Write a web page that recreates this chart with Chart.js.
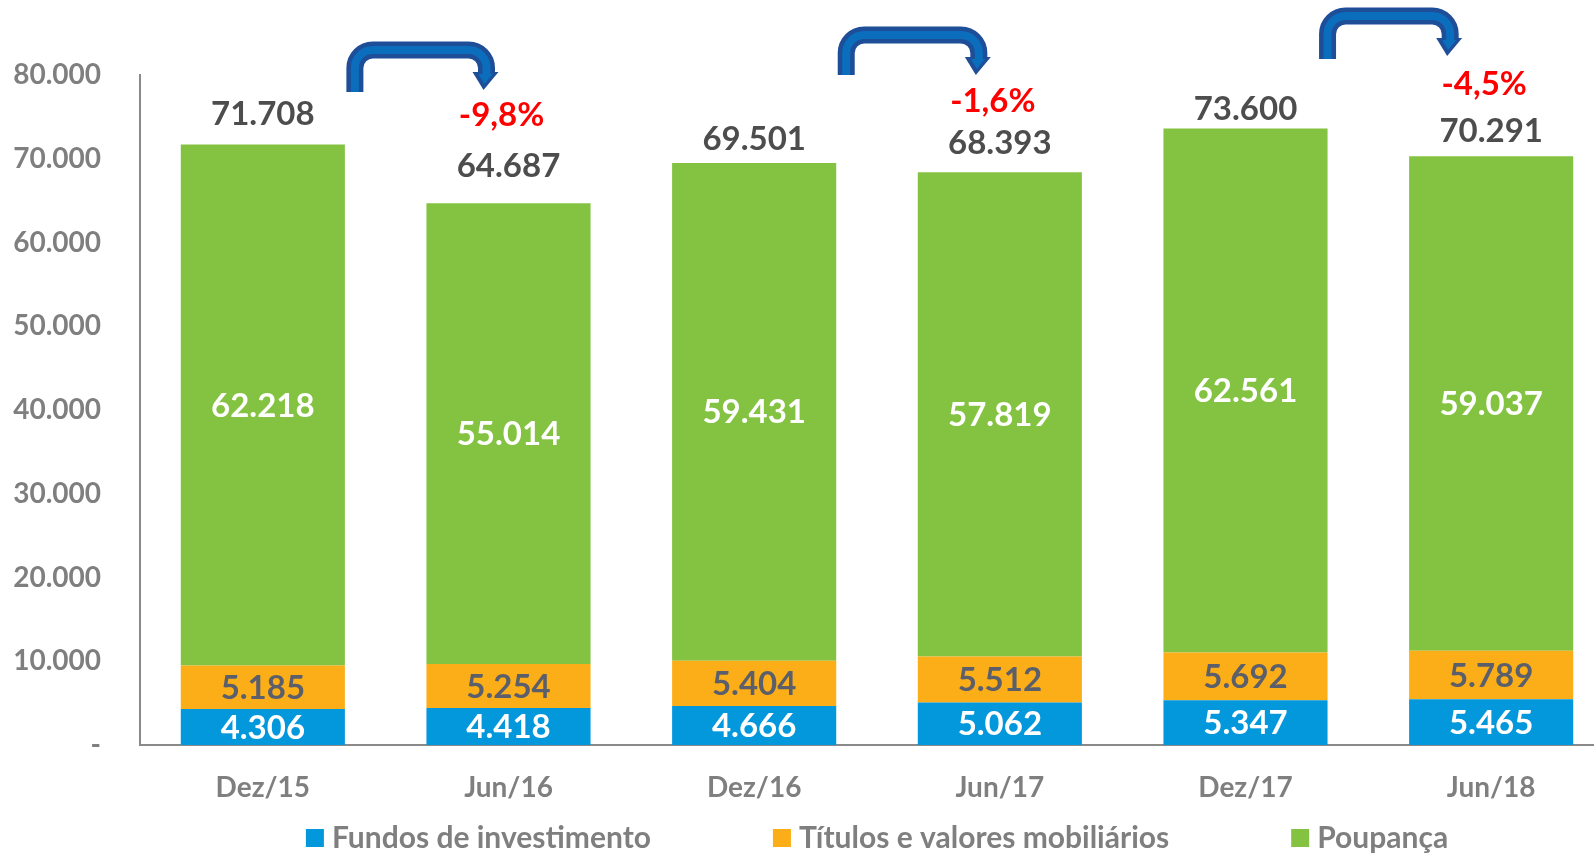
<!DOCTYPE html>
<html>
<head>
<meta charset="utf-8">
<script src="https://cdn.jsdelivr.net/npm/chart.js@4/dist/chart.umd.min.js"></script>
<style>
  html, body { margin: 0; padding: 0; background: #fff; overflow: hidden; }
  #wrap { width: 1614px; height: 853px; }
</style>
</head>
<body>
<div id="wrap"><canvas id="mycanvas"></canvas></div>
<script>
var periodos = ["Dez/15", "Jun/16", "Dez/16", "Jun/17", "Dez/17", "Jun/18"];
var fundos = [4306, 4418, 4666, 5062, 5347, 5465];
var titulos = [5185, 5254, 5404, 5512, 5692, 5789];
var poupanca = [62218, 55014, 59431, 57819, 62561, 59037];
var totais = [71708, 64687, 69501, 68393, 73600, 70291];
var variacao = ["", "-9,8%", "", "-1,6%", "", "-4,5%"];
var yTicks = [0, 10000, 20000, 30000, 40000, 50000, 60000, 70000, 80000];

// label placement (px above the bar top), not data
var totalGap = [30, 37, 24, 29, 19, 25];
var pctGap = [0, 51, 0, 42, 0, 47];
// arrows: from bar, to bar, left shaft dx from bar right, right shaft dx from bar centre, top y, bottom y
var setas = [
  {de: 0, para: 1, dl: 10, dr: -22, top: 50, bottom: 92},
  {de: 2, para: 3, dl: 10, dr: -21, top: 35, bottom: 75},
  {de: 4, para: 5, dl: 0, dr: -41, top: 16, bottom: 59}
];

var FONT = "Lato";

function fmt(v) {
  return String(v).replace(/\B(?=(\d{3})+(?!\d))/g, ".");
}

var labelsPlugin = {
  id: "labelsPlugin",
  afterDatasetsDraw: function(chart) {
    var ctx = chart.ctx;
    var colors = ["#ffffff", "#5b5f6b", "#ffffff"];
    ctx.save();
    ctx.font = "bold 33px " + FONT;
    ctx.textAlign = "center";
    ctx.textBaseline = "middle";
    chart.data.datasets.forEach(function(ds, di) {
      var meta = chart.getDatasetMeta(di);
      meta.data.forEach(function(bar, i) {
        ctx.fillStyle = colors[di];
        ctx.fillText(fmt(ds.data[i]), bar.x, (bar.y + bar.base) / 2 + 1);
      });
    });
    var top = chart.getDatasetMeta(2).data;
    top.forEach(function(bar, i) {
      var ty = bar.y - totalGap[i];
      ctx.fillStyle = "#4d4d4d";
      ctx.fillText(fmt(totais[i]), bar.x, ty);
      if (variacao[i]) {
        ctx.fillStyle = "#ff0000";
        ctx.fillText(variacao[i], bar.x - 7, ty - pctGap[i]);
      }
    });
    ctx.restore();
  }
};

function drawArrow(ctx, xl, xr, top, bottom) {
  var r = 18;
  var headBase = top + 24;
  var tipY = headBase + 16;
  function path() {
    ctx.beginPath();
    ctx.moveTo(xl, bottom);
    ctx.lineTo(xl, top + r);
    ctx.arcTo(xl, top, xl + r, top, r);
    ctx.lineTo(xr - r, top);
    ctx.arcTo(xr, top, xr, top + r, r);
    ctx.lineTo(xr, headBase);
  }
  ctx.save();
  ctx.lineJoin = "round";
  ctx.lineCap = "butt";
  ctx.strokeStyle = "#1f4e99";
  ctx.lineWidth = 17;
  path();
  ctx.stroke();
  // head
  ctx.beginPath();
  ctx.moveTo(xr - 14, headBase - 2);
  ctx.lineTo(xr + 12, headBase - 2);
  ctx.lineTo(xr - 3, tipY);
  ctx.closePath();
  ctx.fillStyle = "#1f4e99";
  ctx.fill();
  ctx.strokeStyle = "#0a6ebd";
  ctx.lineWidth = 8;
  path();
  ctx.stroke();
  ctx.beginPath();
  ctx.moveTo(xr - 8, headBase);
  ctx.lineTo(xr + 6, headBase);
  ctx.lineTo(xr - 2, tipY - 6);
  ctx.closePath();
  ctx.fillStyle = "#0a6ebd";
  ctx.fill();
  ctx.restore();
}

var arrowsPlugin = {
  id: "arrowsPlugin",
  afterDraw: function(chart) {
    var bars = chart.getDatasetMeta(2).data;
    setas.forEach(function(s) {
      var a = bars[s.de], b = bars[s.para];
      var xl = a.x + a.width / 2 + s.dl;
      var xr = b.x + s.dr;
      drawArrow(chart.ctx, xl, xr, s.top, s.bottom);
    });
  }
};

var legendPlugin = {
  id: "legendPlugin",
  afterDraw: function(chart) {
    var ctx = chart.ctx;
    var ds = chart.data.datasets;
    var box = 18, gapBox = 8, gapItem = 122, y = 838;
    ctx.save();
    ctx.font = "bold 30px " + FONT;
    ctx.textBaseline = "middle";
    var widths = ds.map(function(d) { return box + gapBox + ctx.measureText(d.label).width; });
    var total = widths.reduce(function(a, b) { return a + b; }, 0) + gapItem * (ds.length - 1);
    var area = chart.chartArea;
    var x = (area.left + area.right) / 2 - total / 2;
    ds.forEach(function(d, i) {
      ctx.fillStyle = d.backgroundColor;
      ctx.fillRect(x, y - box / 2, box, box);
      ctx.fillStyle = "#7f7f7f";
      ctx.textAlign = "left";
      ctx.fillText(d.label, x + box + gapBox, y);
      x += widths[i] + gapItem;
    });
    ctx.restore();
  }
};

var chartdata = {
  labels: periodos,
  datasets: [
    { label: "Fundos de investimento", data: fundos, backgroundColor: "#0397db" },
    { label: "Títulos e valores mobiliários", data: titulos, backgroundColor: "#fbae17" },
    { label: "Poupança", data: poupanca, backgroundColor: "#84c341" }
  ]
};

var ctx = document.getElementById("mycanvas");

var graph = new Chart(ctx, {
  type: "bar",
  data: chartdata,
  plugins: [labelsPlugin, arrowsPlugin, legendPlugin],
  options: {
    responsive: true,
    maintainAspectRatio: false,
    animation: { duration: 0 },
    layout: { padding: { top: 75, right: 0, bottom: 0, left: 0 } },
    datasets: { bar: { categoryPercentage: 1, barPercentage: 0.668 } },
    plugins: { legend: { display: false }, tooltip: { enabled: false } },
    scales: {
      x: {
        stacked: true,
        grid: { display: false },
        border: { display: true, color: "#8a8a8a", width: 2 },
        ticks: { color: "#7f7f7f", font: { family: FONT, size: 28, weight: "bold" }, padding: 18 },
        afterFit: function(scale) { scale.height = 108; }
      },
      y: {
        stacked: true,
        min: 0,
        max: 80000,
        grid: { display: false },
        border: { display: true, color: "#8a8a8a", width: 2 },
        afterBuildTicks: function(scale) {
          scale.ticks = yTicks.map(function(v) { return { value: v }; });
        },
        ticks: {
          color: "#7f7f7f",
          font: { family: FONT, size: 28, weight: "bold" },
          padding: 31,
          callback: function(v) { return v === 0 ? "-" : fmt(v); }
        },
        afterFit: function(scale) { scale.width = 140; }
      }
    }
  }
});
</script>
</body>
</html>
